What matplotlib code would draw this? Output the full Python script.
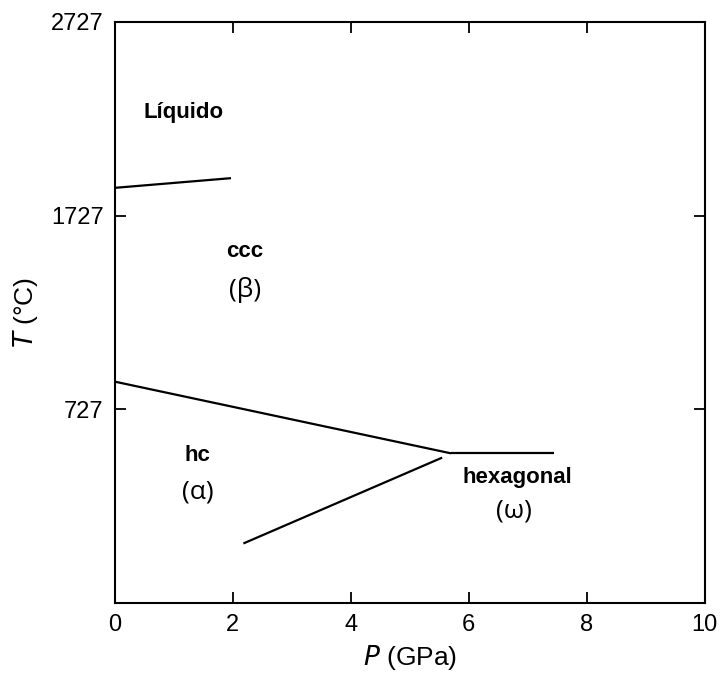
#!/usr/bin/env python

import matplotlib
matplotlib.use("Agg")
import matplotlib.pyplot as plt

# Phase boundaries: pressure (GPa) vs temperature (C)
liq_p = [0.0, 1.97]
liq_t = [1870, 1920]

beta_alpha_p = [0.0, 5.7]
beta_alpha_t = [870, 500]

beta_omega_p = [5.7, 7.45]
beta_omega_t = [500, 500]

alpha_omega_p = [2.18, 5.55]
alpha_omega_t = [35, 478]

# Region labels: (text, x, y, bold)
labels = [
    ("Líquido", 1.16, 2260, True),
    ("ccc", 2.2, 1540, True),
    ("(β)", 2.2, 1345, False),
    ("hc", 1.4, 490, True),
    ("(α)", 1.4, 300, False),
    ("hexagonal", 6.82, 375, True),
    ("(ω)", 6.76, 205, False),
]

xticks = [0, 2, 4, 6, 8, 10]
yticks = [727, 1727, 2727]

plt.rcParams["font.family"] = ["Liberation Sans", "DejaVu Sans"]

fig = plt.figure(figsize=(7.22, 6.8), dpi=100)
ax = fig.add_axes([0.159, 0.113, 0.817, 0.855])

for p, t in [(liq_p, liq_t), (beta_alpha_p, beta_alpha_t),
             (beta_omega_p, beta_omega_t), (alpha_omega_p, alpha_omega_t)]:
    ax.plot(p, t, color="black", lw=1.6, solid_capstyle="butt")

for text, x, y, bold in labels:
    if bold:
        ax.text(x, y, text, ha="center", va="center", fontsize=16,
                fontweight="bold")
    else:
        ax.text(x, y, text, ha="center", va="center", fontsize=19,
                family=["Open Sans", "DejaVu Sans"])

ax.set_xlim(0, 10)
ax.set_ylim(-273, 2727)
ax.set_xticks(xticks)
ax.set_yticks(yticks)
ax.tick_params(direction="in", length=8, width=1.3, top=True, right=True,
               labelsize=17, pad=8)
for s in ax.spines.values():
    s.set_linewidth(1.5)

ax.set_xlabel("$\\it{P}$ (GPa)", fontsize=19, labelpad=5)
ax.set_ylabel("$\\it{T}$ (°C)", fontsize=19, labelpad=8)

fig.savefig("out.png", dpi=100)
